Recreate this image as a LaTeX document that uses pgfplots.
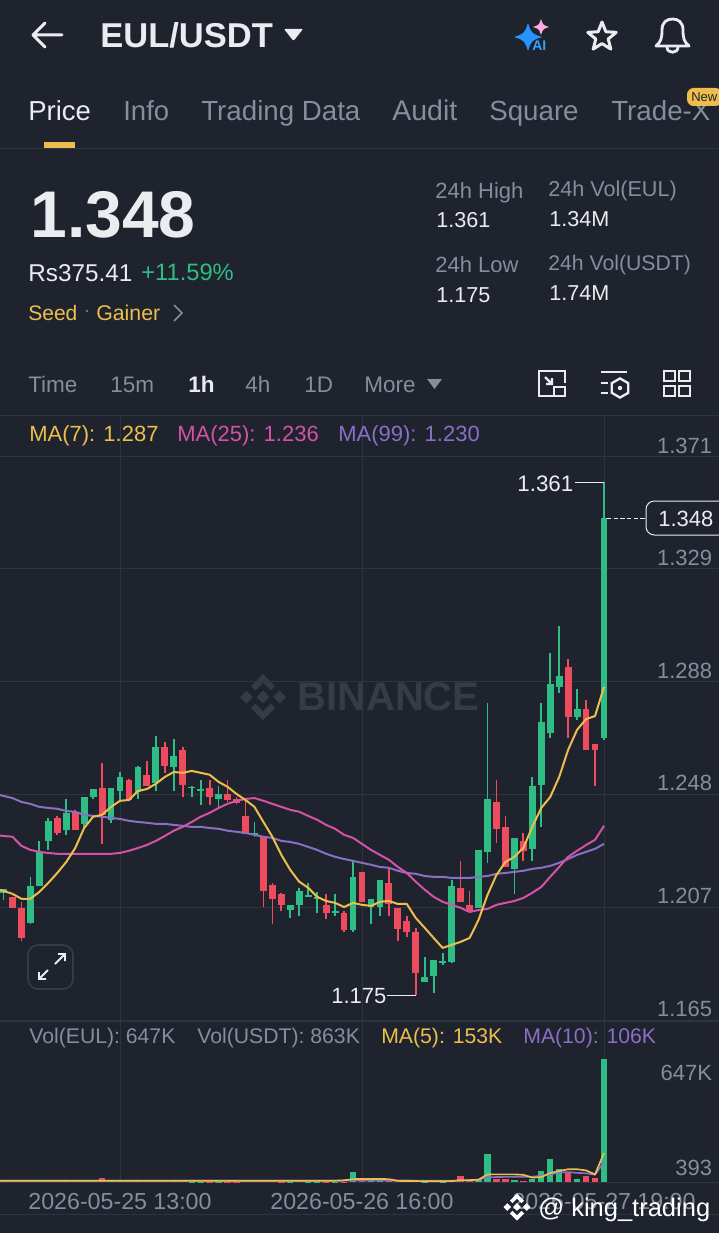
\documentclass[border=0pt]{standalone}
\usepackage{fontspec}
\setmainfont{Liberation Sans}
\usepackage{pgfplots}
\usepackage{pgfplotstable}
\pgfplotsset{compat=1.18}
\usetikzlibrary{shapes.geometric}
\definecolor{bg}{HTML}{1E232D}
\definecolor{gridc}{HTML}{2F353F}
\definecolor{lbl}{HTML}{848E9C}
\definecolor{wht}{HTML}{EAECEF}
\definecolor{cgreen}{HTML}{2EBD85}
\definecolor{cred}{HTML}{EE4B5F}
\definecolor{yel}{HTML}{EDBE4E}
\definecolor{pnk}{HTML}{D452A8}
\definecolor{pur}{HTML}{8A6FC4}
\definecolor{wmark}{HTML}{363C46}
\newcommand{\F}[1]{\fontsize{\the\dimexpr #1pt*6/10\relax}{\the\dimexpr #1pt*7/10\relax}\selectfont}
\newcommand{\T}[5]{\node[anchor=base west,inner sep=0pt,text=#4] at (#1,#2) {\F{#3}#5};}
\newcommand{\bnb}[4]{\begin{scope}[shift={(#1,#2)},x=#3*0.6pt,y=#3*0.6pt]
\fill[#4] (0,.28)--(.28,0)--(0,-.28)--(-.28,0)--cycle;
\fill[#4] (-.72,.28)--(-.44,0)--(-.72,-.28)--(-1,0)--cycle;
\fill[#4] (.72,.28)--(.44,0)--(.72,-.28)--(1,0)--cycle;
\fill[#4] (0,1)--(.52,.48)--(.33,.29)--(0,.62)--(-.33,.29)--(-.52,.48)--cycle;
\fill[#4] (0,-1)--(.52,-.48)--(.33,-.29)--(0,-.62)--(-.33,-.29)--(-.52,-.48)--cycle;
\end{scope}}
\newcommand{\spark}[4]{\fill[#4] (#1-#3,#2) .. controls (#1-.25*#3,#2-.25*#3) .. (#1,#2-#3) .. controls (#1+.25*#3,#2-.25*#3) .. (#1+#3,#2) .. controls (#1+.25*#3,#2+.25*#3) .. (#1,#2+#3) .. controls (#1-.25*#3,#2+.25*#3) .. cycle;}

% candles: i high top bottom low
\pgfplotstableread{
i h t b l
0 1.2136 1.2136 1.2122 1.2096
3 1.2180 1.2147 1.2012 1.2008
4 1.2311 1.2271 1.2147 1.2147
5 1.2395 1.2384 1.2311 1.2278
7 1.2464 1.2413 1.2351 1.2333
9 1.2471 1.2471 1.2373 1.2358
10 1.2500 1.2500 1.2471 1.2464
12 1.2504 1.2504 1.2388 1.2377
13 1.2562 1.2544 1.2493 1.2460
15 1.2584 1.2581 1.2489 1.2464
17 1.2694 1.2654 1.2522 1.2493
19 1.2683 1.2621 1.2581 1.2493
21 1.2511 1.2508 1.2504 1.2471
22 1.2533 1.2500 1.2493 1.2442
24 1.2511 1.2482 1.2464 1.2435
28 1.2380 1.2340 1.2333 1.2326
32 1.2078 1.2078 1.2059 1.2030
33 1.2140 1.2129 1.2078 1.2038
34 1.2158 1.2114 1.2107 1.2107
35 1.2125 1.2107 1.2100 1.2048
37 1.2118 1.2056 1.2048 1.2038
39 1.2238 1.2180 1.1986 1.1979
41 1.2100 1.2100 1.2070 1.2008
42 1.2169 1.2169 1.2070 1.2038
47 1.1888 1.1816 1.1797 1.1797
48 1.1877 1.1877 1.1819 1.1757
49 1.1903 1.1874 1.1866 1.1859
50 1.2169 1.2147 1.1870 1.1866
53 1.2278 1.2278 1.2067 1.2067
54 1.2814 1.2464 1.2271 1.2231
57 1.2322 1.2322 1.2209 1.2118
59 1.2544 1.2511 1.2282 1.2238
60 1.2814 1.2745 1.2515 1.2362
61 1.2996 1.2883 1.2705 1.2687
62 1.3094 1.2912 1.2872 1.2851
64 1.2865 1.2792 1.2763 1.2752
67 1.3619 1.3488 1.2687 1.2679
}\greenc
\pgfplotstableread{
i h t b l
1 1.2107 1.2107 1.2067 1.2067
2 1.2089 1.2067 1.1957 1.1946
6 1.2402 1.2395 1.2340 1.2333
8 1.2424 1.2417 1.2351 1.2351
11 1.2595 1.2504 1.2406 1.2300
14 1.2537 1.2533 1.2460 1.2457
16 1.2603 1.2552 1.2511 1.2511
18 1.2672 1.2654 1.2584 1.2559
20 1.2654 1.2643 1.2515 1.2471
23 1.2533 1.2504 1.2471 1.2442
25 1.2533 1.2482 1.2460 1.2453
26 1.2471 1.2464 1.2450 1.2446
27 1.2460 1.2402 1.2337 1.2337
29 1.2329 1.2326 1.2129 1.2070
30 1.2158 1.2151 1.2100 1.2008
31 1.2122 1.2118 1.2078 1.2056
36 1.2118 1.2078 1.2048 1.2027
38 1.2056 1.2048 1.1986 1.1979
40 1.2198 1.2198 1.2089 1.2089
43 1.2213 1.2158 1.2081 1.2038
44 1.2067 1.2067 1.1990 1.1946
45 1.2038 1.2019 1.1979 1.1961
46 1.1994 1.1979 1.1830 1.1750
51 1.2238 1.2140 1.2089 1.2089
52 1.2129 1.2078 1.2052 1.2048
55 1.2533 1.2453 1.2355 1.2304
56 1.2402 1.2362 1.2216 1.2216
58 1.2340 1.2311 1.2275 1.2238
63 1.2974 1.2945 1.2763 1.2687
65 1.2825 1.2792 1.2643 1.2643
66 1.2665 1.2665 1.2643 1.2511
}\redc
% moving averages: i ma7 ma25 ma99
\pgfplotstableread{
i a b c
-1 1.2136 1.2333 1.2482
0 1.2129 1.2329 1.2475
1 1.2118 1.2326 1.2467
2 1.2100 1.2293 1.2453
3 1.2100 1.2278 1.2446
4 1.2125 1.2271 1.2435
5 1.2158 1.2267 1.2431
6 1.2194 1.2264 1.2428
7 1.2234 1.2264 1.2420
8 1.2285 1.2264 1.2417
9 1.2358 1.2264 1.2406
10 1.2399 1.2264 1.2402
11 1.2406 1.2264 1.2399
12 1.2435 1.2264 1.2395
13 1.2457 1.2267 1.2391
14 1.2460 1.2275 1.2384
15 1.2493 1.2285 1.2380
16 1.2500 1.2296 1.2377
17 1.2519 1.2311 1.2373
18 1.2544 1.2329 1.2373
19 1.2562 1.2348 1.2369
20 1.2559 1.2362 1.2366
21 1.2566 1.2380 1.2362
22 1.2559 1.2399 1.2362
23 1.2552 1.2413 1.2358
24 1.2526 1.2431 1.2355
25 1.2508 1.2446 1.2348
26 1.2482 1.2457 1.2344
27 1.2460 1.2464 1.2340
28 1.2435 1.2467 1.2333
29 1.2380 1.2457 1.2326
30 1.2326 1.2446 1.2322
31 1.2260 1.2435 1.2311
32 1.2205 1.2424 1.2307
33 1.2162 1.2417 1.2300
34 1.2140 1.2402 1.2289
35 1.2107 1.2388 1.2278
36 1.2092 1.2369 1.2264
37 1.2085 1.2355 1.2253
38 1.2070 1.2333 1.2245
39 1.2085 1.2322 1.2238
40 1.2078 1.2300 1.2231
41 1.2074 1.2278 1.2224
42 1.2089 1.2260 1.2216
43 1.2092 1.2242 1.2213
44 1.2081 1.2216 1.2202
45 1.2081 1.2194 1.2194
46 1.2030 1.2162 1.2191
47 1.1994 1.2133 1.2183
48 1.1957 1.2107 1.2180
49 1.1921 1.2089 1.2180
50 1.1932 1.2078 1.2176
51 1.1943 1.2067 1.2176
52 1.1957 1.2052 1.2176
53 1.2023 1.2059 1.2180
54 1.2114 1.2063 1.2183
55 1.2187 1.2078 1.2191
56 1.2234 1.2085 1.2194
57 1.2253 1.2092 1.2198
58 1.2285 1.2103 1.2202
59 1.2362 1.2122 1.2209
60 1.2431 1.2143 1.2213
61 1.2471 1.2180 1.2220
62 1.2544 1.2216 1.2231
63 1.2643 1.2253 1.2245
64 1.2716 1.2275 1.2260
65 1.2755 1.2296 1.2271
66 1.2766 1.2315 1.2282
67 1.2872 1.2366 1.2300
}\mas
% volume in thousands
\pgfplotstableread{
i v
0 3
3 5
4 6
5 4
7 4
9 4
10 3
12 6
13 5
15 4
17 5
19 4
21 2
22 2
24 2
28 3
32 2
33 3
34 1
35 1
37 1
39 53
41 3
42 3
47 2
48 3
49 2
50 8
53 8
54 149
57 13
59 16
60 58
61 123
62 70
64 14
67 647
}\volg
\pgfplotstableread{
i v
1 3
2 5
6 3
8 4
11 23
14 3
16 3
18 3
20 4
23 2
25 2
26 2
27 5
29 5
30 4
31 2
36 2
38 2
40 5
43 3
44 3
45 3
46 6
51 30
52 6
55 14
56 14
58 5
63 53
65 30
66 21
}\volr
\pgfplotstableread{
i m5 m10
-1 7 7
5 7 7
15 7 7
25 7 7
36 7 7
37 7 7
38 9 7
39 15 8
40 16 8
41 16 8
42 16 8
43 15 8
44 6 8
45 5 8
46 5 7
47 4 7
48 4 7
49 4 7
50 5 7
51 10 7
52 10 8
53 12 12
54 40 25
55 40 26
56 40 27
57 40 27
58 38 28
59 23 28
60 26 32
61 47 40
62 58 50
63 67 52
64 67 48
65 61 46
66 40 38
67 153 106
}\volma

\begin{document}
\begin{tikzpicture}[x=0.6pt,y=-0.6pt,line cap=butt]
\path[use as bounding box] (0,0) rectangle (719,1233);
\fill[bg] (0,0) rectangle (719,1233);
% panel rules
\draw[gridc,line width=0.6pt] (0,149)--(719,149);
\draw[gridc,line width=0.6pt] (0,415)--(719,415);
\draw[gridc,line width=0.6pt] (0,1021)--(719,1021);
\draw[gridc,line width=0.6pt] (0,1182)--(719,1182);
\draw[gridc,line width=0.6pt] (0,1214)--(719,1214);
% chart watermark
\bnb{263}{697}{23}{wmark}
\node[anchor=base west,inner sep=0pt,text=wmark] at (297,710) {\F{40}\bfseries BINANCE};

% price axis
\begin{axis}[
  at={(0pt,-612.6pt)},anchor=south west,scale only axis,
  width=431.4pt,height=363.6pt,
  xmin=-0.39,xmax=79.83,ymin=1.16546,ymax=1.3863,
  axis line style={draw=none},
  major tick length=0pt,
  xtick={13,40,67},xticklabels={},
  xmajorgrids,ymajorgrids,
  grid style={gridc,line width=0.6pt},
  ytick={1.371,1.3302,1.2890,1.2479,1.2067,1.1655},
  yticklabels={1.371,1.329,1.288,1.248,1.207,1.165},
  yticklabel pos=right,
  yticklabel style={anchor=east,xshift=-0.6pt,yshift=6.9pt,text=lbl,font=\F{22}},
]
\addplot[forget plot,draw=none,no markers,error bars/.cd,y dir=both,y explicit,error mark=none,error bar style={draw=cgreen,line width=1.05pt}]
  table[x=i,y=t,y error plus expr=\thisrow{h}-\thisrow{t},y error minus expr=\thisrow{t}-\thisrow{l}] {\greenc};
\addplot[forget plot,draw=none,no markers,error bars/.cd,y dir=minus,y explicit,error mark=none,error bar style={draw=cgreen,line width=4.1pt}]
  table[x=i,y=t,y error minus expr=\thisrow{t}-\thisrow{b}] {\greenc};
\addplot[forget plot,draw=none,no markers,error bars/.cd,y dir=both,y explicit,error mark=none,error bar style={draw=cred,line width=1.05pt}]
  table[x=i,y=t,y error plus expr=\thisrow{h}-\thisrow{t},y error minus expr=\thisrow{t}-\thisrow{l}] {\redc};
\addplot[forget plot,draw=none,no markers,error bars/.cd,y dir=minus,y explicit,error mark=none,error bar style={draw=cred,line width=4.1pt}]
  table[x=i,y=t,y error minus expr=\thisrow{t}-\thisrow{b}] {\redc};
\addplot[pur,line width=1.2pt,line join=round,no markers] table[x=i,y=c] {\mas};
\addplot[pnk,line width=1.2pt,line join=round,no markers] table[x=i,y=b] {\mas};
\addplot[yel,line width=1.2pt,line join=round,no markers] table[x=i,y=a] {\mas};
\end{axis}

% volume axis
\begin{axis}[
  at={(0pt,-709.2pt)},anchor=south west,scale only axis,
  width=431.4pt,height=96pt,
  xmin=-0.39,xmax=79.83,ymin=0,ymax=841.6,
  axis line style={draw=none},
  major tick length=0pt,
  xtick={13,40,67},
  xticklabels={2026-05-25 13:00,2026-05-26 16:00,2026-05-27 19:00},
  xmajorgrids,
  grid style={gridc,line width=0.6pt},
  xticklabel style={text=lbl,font=\F{23.2},yshift=-3pt},
  ytick={0.393,647},
  yticklabels={{\raisebox{3.6pt}[0pt][0pt]{393}},{\raisebox{-13.2pt}[0pt][0pt]{647K}}},
  yticklabel pos=right,
  yticklabel style={anchor=east,xshift=-0.6pt,text=lbl,font=\F{22}},
]
\addplot[forget plot,ycomb,no markers,cgreen,line width=3.8pt] table[x=i,y=v] {\volg};
\addplot[forget plot,ycomb,no markers,cred,line width=3.8pt] table[x=i,y=v] {\volr};
\addplot[pur,line width=1pt,line join=round,no markers] table[x=i,y=m10] {\volma};
\addplot[yel,line width=1pt,line join=round,no markers] table[x=i,y=m5] {\volma};
\end{axis}

% header
\draw[wht,line width=1.8pt,line cap=round,line join=round] (62,35)--(33,35) (45,23)--(33,35)--(45,47);
\node[anchor=base west,inner sep=0pt,text=wht] at (100,48) {\F{34.5}\bfseries EUL/USDT};
\fill[wht,rounded corners=0.6pt] (284,29)--(303,29)--(293.5,41)--cycle;
\spark{528}{37}{14}{blue!50!cyan!85!white}
\spark{541}{27}{8}{pink!70!magenta!70!white}
\node[anchor=base west,inner sep=0pt,text=blue!45!cyan!80!white] at (532,51) {\F{14}\bfseries AI};
\node[star,star points=5,star point ratio=2.3,draw=wht,line width=1.8pt,line join=round,inner sep=0pt,minimum size=18pt] at (602,37) {};
\draw[wht,line width=1.7pt,line join=round,line cap=round] (656,46) .. controls (661,42) and (662,38) .. (662,30) .. controls (662,22) and (667,19) .. (672.5,19) .. controls (678,19) and (683,22) .. (683,30) .. controls (683,38) and (684,42) .. (689,46) -- cycle;
\draw[wht,line width=1.7pt] (667,47) .. controls (667,54) and (678,54) .. (678,47);
% tabs
\T{28}{121}{27.5}{wht}{Price}
\T{123}{121}{27.5}{lbl}{Info}
\T{201}{121}{27.7}{lbl}{Trading Data}
\T{392}{121}{28.5}{lbl}{Audit}
\T{489}{121}{27.7}{lbl}{Square}
\T{611}{121}{27.7}{lbl}{Trade-X}
\fill[yel,rounded corners=4pt] (687,88) rectangle (722,106);
\T{691}{102}{13}{bg}{New}
\fill[yel] (44,142) rectangle (75,148);
% price block
\node[anchor=base west,inner sep=0pt,text=wht] at (30,238) {\F{66}\bfseries 1.348};
\T{28}{282}{24.3}{wht}{Rs375.41}
\T{141}{281}{23.7}{cgreen}{+11.59\%}
\T{28}{321}{21}{yel}{Seed}
\T{96}{321}{21.3}{yel}{Gainer}
\fill[lbl] (87,311) circle (1.2);
\draw[lbl,line width=1pt] (174,305)--(182,313)--(174,321);
\T{435}{199}{22}{lbl}{24h High}
\T{436}{228}{21.6}{wht}{1.361}
\T{548}{197}{21.6}{lbl}{24h Vol(EUL)}
\T{549}{227}{21.6}{wht}{1.34M}
\T{435}{273}{22}{lbl}{24h Low}
\T{436}{303}{21.6}{wht}{1.175}
\T{548}{271}{21.2}{lbl}{24h Vol(USDT)}
\T{549}{301}{21.6}{wht}{1.74M}
% interval row
\T{28}{392}{22.5}{lbl}{Time}
\T{110}{392}{22.5}{lbl}{15m}
\node[anchor=base west,inner sep=0pt,text=wht] at (188,392) {\F{22.5}\bfseries 1h};
\T{245}{392}{22.5}{lbl}{4h}
\T{304}{392}{22.5}{lbl}{1D}
\T{364}{392}{22.5}{lbl}{More}
\fill[lbl] (427,379)--(442,379)--(434.5,389)--cycle;
% layout icon
\draw[wht,line width=1.4pt] (553,396)--(539,396)--(539,371)--(565,371)--(565,383);
\draw[wht,line width=1.4pt] (554,387) rectangle (565,396);
\draw[wht,line width=1.4pt] (545,377)--(552,384) (552,378)--(552,384)--(546,384);
% indicator icon
\draw[wht,line width=1.4pt] (601,372)--(627,372) (601,383)--(608,383) (601,393)--(608,393);
\node[draw=wht,regular polygon,regular polygon sides=6,shape border rotate=30,line width=1.4pt,inner sep=0pt,minimum size=11.5pt] at (620,388) {};
\fill[wht] (620,388) circle (2.2);
% grid icon
\draw[wht,line width=1.4pt] (664,371) rectangle (675,381) (679,371) rectangle (690,381) (664,386) rectangle (675,396) (679,386) rectangle (690,396);
% indicator rows
\T{29}{441}{22}{yel}{MA(7): 1.287}
\T{177}{441}{22}{pnk}{MA(25): 1.236}
\T{338}{441}{22}{pur}{MA(99): 1.230}
\T{29}{1043}{21.2}{lbl}{Vol(EUL): 647K}
\T{197}{1043}{21.2}{lbl}{Vol(USDT): 863K}
\T{381}{1043}{21.2}{yel}{MA(5): 153K}
\T{523}{1043}{21.2}{pur}{MA(10): 106K}
% extreme labels
\T{517}{491}{22.4}{wht}{1.361}
\draw[wht,line width=0.6pt] (575,482)--(604,482);
\T{331}{1003}{22}{wht}{1.175}
\draw[wht,line width=0.6pt] (387,995)--(416,995);
\draw[wht,line width=0.6pt,dash pattern=on 2.5pt off 1.5pt] (607,518)--(645,518);
\draw[wht,line width=0.6pt,fill=bg,rounded corners=5pt] (646,501)--(730,501)--(730,535)--(646,535)--cycle;
\T{658}{526}{22}{wht}{1.348}
% expand button
\draw[wmark,line width=1pt,rounded corners=6pt] (28,945) rectangle (73,989);
\draw[wht,line width=1.1pt] (39,979)--(48,970) (39,972)--(39,979)--(46,979) (55,964)--(65,954) (58,954)--(65,954)--(65,961);
% corner watermark
\bnb{517}{1207}{13.5}{white}
\T{538}{1216}{25.5}{white}{@ king\_trading}
\end{tikzpicture}
\end{document}
